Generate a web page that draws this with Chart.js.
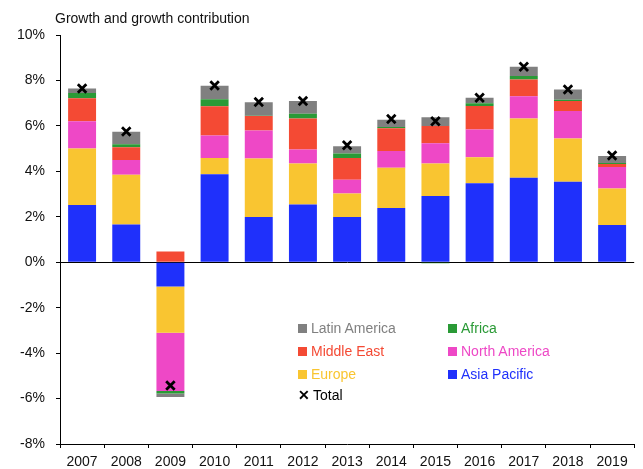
<!DOCTYPE html>
<html>
<head>
<meta charset="utf-8">
<script src="https://cdn.jsdelivr.net/npm/chart.js@4"></script>
<style>
  body { margin: 0; background: #fff; font-family: "Liberation Sans", Arial, sans-serif; }
  #wrap { position: relative; width: 643px; height: 469px; }
  #sub { position: absolute; left: 55px; top: 10px; font-size: 14px; color: #111; }
  #legend { position: absolute; left: 298px; top: 320px; font-size: 14px; }
  .item { position: absolute; white-space: nowrap; }
  .sw { display: inline-block; width: 9px; height: 9px; margin-right: 4px; vertical-align: 0px; }
</style>
</head>
<body>
<div id="wrap">
  <canvas id="myChart" width="643" height="469"></canvas>
  <div id="sub">Growth and growth contribution</div>
  <div id="legend"></div>
</div>
<script>
// Categories and series (percentage points)
const years = ['2007','2008','2009','2010','2011','2012','2013','2014','2015','2016','2017','2018','2019'];
const asiaPacific  = [2.52, 1.66, -1.07, 3.87, 1.99, 2.54, 1.99, 2.39, 2.91, 3.48, 3.72, 3.54, 1.64];
const europe       = [2.48, 2.19, -2.03, 0.72, 2.57, 1.81, 1.03, 1.77, 1.43, 1.14, 2.61, 1.90, 1.60];
const northAmerica = [1.20, 0.65, -2.57, 0.99, 1.24, 0.61, 0.61, 0.74, 0.90, 1.22, 0.97, 1.21, 0.95];
const middleEast   = [1.02, 0.56, 0.47, 1.28, 0.63, 1.37, 0.96, 1.00, 0.76, 1.03, 0.74, 0.44, 0.13];
const africa       = [0.23, 0.13, -0.11, 0.31, 0.02, 0.20, 0.19, 0.05, -0.05, 0.13, 0.16, 0.06, 0.05];
const latinAmerica = [0.20, 0.55, -0.15, 0.60, 0.59, 0.56, 0.32, 0.32, 0.38, 0.24, 0.40, 0.45, 0.31];
const total        = [7.65, 5.75, -5.43, 7.78, 7.05, 7.10, 5.15, 6.30, 6.20, 7.24, 8.60, 7.60, 4.70];
const yTicks = [-8, -6, -4, -2, 0, 2, 4, 6, 8, 10];

const colors = {
    asia: '#1f30fb',
    europe: '#f9c531',
    north: '#ee48c6',
    middle: '#f44a34',
    africa: '#2a9a36',
    latin: '#808080'
};

function barSet(label, data, color) {
    return {
        type: 'bar',
        label: label,
        data: data,
        backgroundColor: color,
        borderWidth: 0,
        barPercentage: 0.633,
        categoryPercentage: 1,
        order: 2
    };
}

const ctx = document.getElementById('myChart').getContext('2d');
const myChart = new Chart(ctx, {
    data: {
        labels: years,
        datasets: [
            barSet('Asia Pacific', asiaPacific, colors.asia),
            barSet('Europe', europe, colors.europe),
            barSet('North America', northAmerica, colors.north),
            barSet('Middle East', middleEast, colors.middle),
            barSet('Africa', africa, colors.africa),
            barSet('Latin America', latinAmerica, colors.latin),
            {
                type: 'line',
                label: 'Total',
                data: total,
                showLine: false,
                pointStyle: 'crossRot',
                pointRadius: 6,
                pointBorderWidth: 2.8,
                borderColor: '#000',
                backgroundColor: '#000',
                order: 1
            }
        ]
    },
    options: {
        responsive: false,
        animation: false,
        layout: { padding: { top: 35, right: 8, bottom: 0, left: 0 } },
        plugins: { legend: { display: false }, tooltip: { enabled: false } },
        scales: {
            x: {
                stacked: true,
                afterFit: function(axis) { axis.height = 25; },
                grid: { drawOnChartArea: false, color: '#000', tickLength: 4 },
                border: { color: '#000', width: 1 },
                ticks: { color: '#111', font: { family: 'Liberation Sans', size: 14 }, padding: 6 }
            },
            y: {
                stacked: true,
                min: -8,
                max: 10,
                afterBuildTicks: function(axis) {
                    axis.ticks = yTicks.map(function(v) { return { value: v }; });
                },
                afterFit: function(axis) { axis.width = 60; },
                grid: {
                    drawOnChartArea: true,
                    color: function(c) { return c.tick && c.tick.value === 0 ? '#000' : 'rgba(0,0,0,0)'; },
                    tickColor: '#000',
                    tickLength: 4
                },
                border: { color: '#000', width: 1 },
                ticks: {
                    color: '#111',
                    font: { family: 'Liberation Sans', size: 14 },
                    padding: 11,
                    callback: function(v) { return v + '%'; }
                }
            }
        }
    }
});

// Legend drawn as HTML in two columns
const legendItems = [
    { label: 'Latin America', color: colors.latin, col: 0, row: 0 },
    { label: 'Africa', color: colors.africa, col: 1, row: 0 },
    { label: 'Middle East', color: colors.middle, col: 0, row: 1 },
    { label: 'North America', color: colors.north, col: 1, row: 1 },
    { label: 'Europe', color: colors.europe, col: 0, row: 2 },
    { label: 'Asia Pacific', color: colors.asia, col: 1, row: 2 }
];
const legend = document.getElementById('legend');
legendItems.forEach(function(it) {
    const d = document.createElement('div');
    d.className = 'item';
    d.style.left = (it.col * 150) + 'px';
    d.style.top = (it.row * 23) + 'px';
    d.style.color = it.color;
    d.innerHTML = '<span class="sw" style="background:' + it.color + '"></span>' + it.label;
    legend.appendChild(d);
});
const tot = document.createElement('div');
tot.className = 'item';
tot.style.left = '0px';
tot.style.top = '67px';
tot.style.color = '#000';
tot.innerHTML = '<span style="font-weight:bold;margin-right:3px">&#x2715;</span>Total';
legend.appendChild(tot);
</script>
</body>
</html>
